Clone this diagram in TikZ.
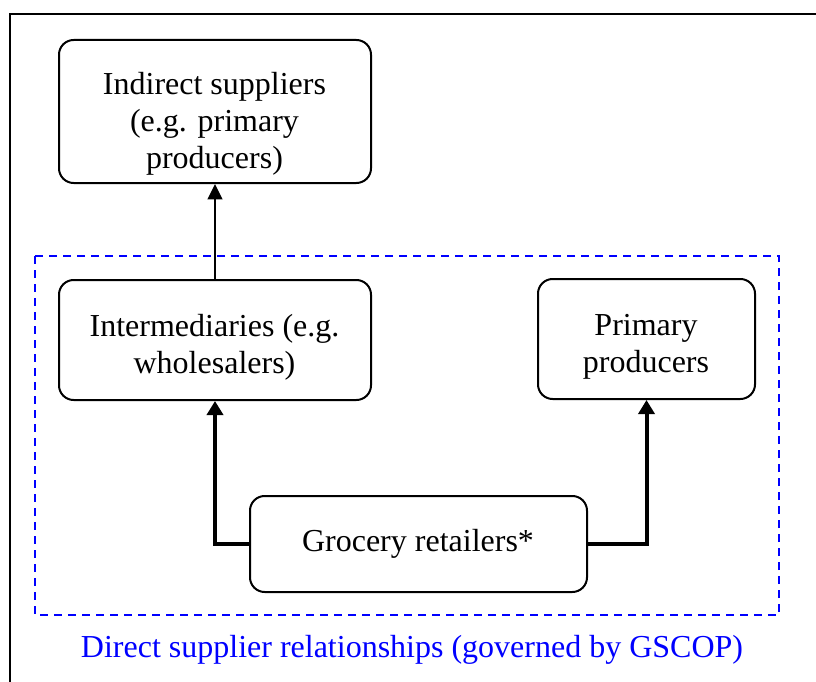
\documentclass[tikz,border=0pt]{standalone}
\usepackage{fontspec}
\setmainfont{Liberation Serif}
\usetikzlibrary{arrows.meta}
\definecolor{gblue}{RGB}{0,0,255}
\tikzset{
  box/.style={draw, line width=1.5pt, rounded corners=11pt, rectangle, inner sep=0pt},
  txt/.style={inner sep=0pt, align=center, font=\fontsize{24}{27.75}\selectfont},
  thin arrow/.style={line width=1.5pt, -{Triangle[length=11.5pt,width=11pt]}},
  thick arrow/.style={line width=3pt, -{Triangle[length=10.5pt,width=12pt]}},
}
\begin{document}
\begin{tikzpicture}[x=0.75pt,y=-0.75pt]
\useasboundingbox (0,0) rectangle (816,681);
\clip (0,0) rectangle (816,681);
\fill[white] (0,0) rectangle (816,681);
% outer frame
\draw[line width=1.5pt] (9.5,14.5) rectangle (830,700);
% dashed region
\draw[gblue, line width=1.6pt, dash pattern=on 6pt off 4.5pt] (35,256) rectangle (779,615);
% boxes
\node[box, minimum width=234pt, minimum height=107.25pt] (ind) at (215,111.5) {};
\node[box, minimum width=234pt, minimum height=90pt] (inter) at (215,340) {};
\node[box, minimum width=162.75pt, minimum height=90pt] (prim) at (646.5,339) {};
\node[box, minimum width=252.75pt, minimum height=72pt] (groc) at (418.5,544) {};
% texts
\node[txt] (indT) at (214.5,124) {Indirect suppliers\\(e.g. primary\\producers)};
\node[txt] (interT) at (214.5,347) {Intermediaries (e.g.\\wholesalers)};
\node[txt] (primT) at (646,347) {Primary\\producers};
\node[txt] (grocT) at (418,543.5) {Grocery retailers*};
\node[txt, text=gblue] (lab) at (412,649.5) {Direct supplier relationships (governed by GSCOP)};
% connectors
\draw[thin arrow] (inter.north) -- (ind.south);
\draw[thick arrow] (groc.west) -| (inter.south);
\draw[thick arrow] (groc.east) -| (prim.south);
\end{tikzpicture}
\end{document}
